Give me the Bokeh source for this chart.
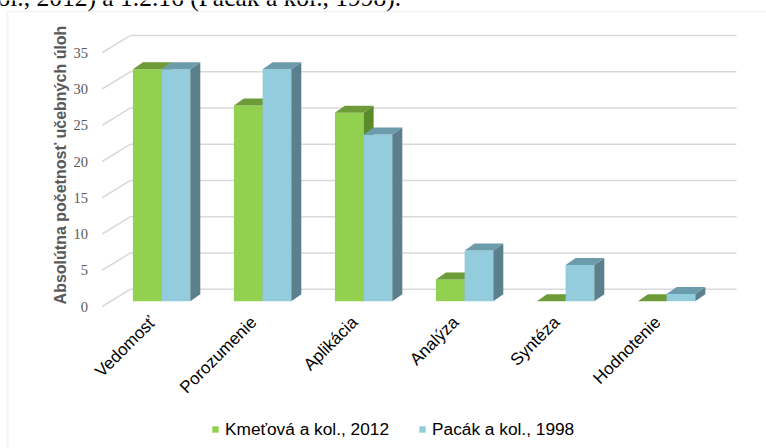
import math
from bokeh.plotting import figure
from bokeh.models import (Range1d, Legend, LegendItem, Label, BoxAnnotation)
from bokeh.core.properties import value
from bokeh.embed import file_html
from bokeh.resources import INLINE

# ---------------- data ----------------
categories = ["Vedomosť", "Porozumenie", "Aplikácia", "Analýza", "Syntéza", "Hodnotenie"]
kmetova = [32, 27, 26, 3, 0, 0]
pacak = [32, 32, 23, 7, 5, 1]
y_ticks = [0, 5, 10, 15, 20, 25, 30, 35]
y_tick_labels = ["0", "5", "10", "15", "20", "25", "30", "35"]
series_names = ["Kmeťová a kol., 2012", "Pacák a kol., 1998"]
y_title = "Absolútna početnosť učebných úloh"
caption_fragment = "ol., 2012) a 1.2.16 (Pacák a kol., 1998)."

# ---------------- geometry (pixels of the 766x448 canvas) ----------------
W, H = 766, 448
X0, SX = 101.7, 101.0                  # floor front-left px, px per category
Y0, SY = 306.0, 7.25                   # px of value 0 at floor front, px per unit


def dx(px):
    return (px - X0) / SX


def dy(py):
    return (Y0 - py) / SY


def off(dx_px, dy_px):
    return dx_px / SX, dy_px / SY


wall_dx, wall_dy = off(28.3, 17.3)     # floor front -> back wall
bar_dx, bar_dy = off(8.9, 5.3)         # floor front -> bar front plane
dep_dx, dep_dy = off(10.0, 7.0)        # bar depth
bar_w = 28.7 / SX
n = len(categories)

GRID = "#D9D9D9"
GREY_TXT = "#595959"
GREEN = ("#92D050", "#6C9B38", "#5B8A2B")   # front, top, side
BLUE = ("#93CDDD", "#6C9BAC", "#5B7F8C")

p = figure(width=W, height=H, x_range=Range1d(dx(0), dx(W)), y_range=Range1d(dy(H), dy(0)),
           output_backend="svg", toolbar_location=None, x_axis_type=None, y_axis_type=None,
           min_border=0)
p.outline_line_color = None
p.background_fill_color = "white"
p.border_fill_color = "white"

# outer chart border (left and top edges visible)
p.add_layout(BoxAnnotation(left=7, right=W + 50, top=H - 11, bottom=-50,
                           left_units="screen", right_units="screen",
                           top_units="screen", bottom_units="screen",
                           fill_alpha=0, line_color=GRID, line_width=2))

# ---------------- walls (grid) ----------------
k = len(y_ticks)
p.segment(x0=[wall_dx] * k, y0=[t + wall_dy for t in y_ticks],
          x1=[n + wall_dx] * k, y1=[t + wall_dy for t in y_ticks],
          line_color=GRID, line_width=1.5)
p.segment(x0=[0] * k, y0=y_ticks,
          x1=[wall_dx] * k, y1=[t + wall_dy for t in y_ticks],
          line_color=GRID, line_width=1.5)

# ---------------- value axis labels ----------------
p.text(x=[dx(87.5)] * k, y=y_ticks, text=y_tick_labels,
       text_font=value("Liberation Serif"), text_font_size="14.5px",
       text_color=GREY_TXT, text_align="right", text_baseline="middle")
p.add_layout(Label(x=60, y=H - 164.5, x_units="screen", y_units="screen",
                   text=y_title, angle=math.pi / 2, text_font="Liberation Sans",
                   text_font_style="bold", text_font_size="16px", text_color=GREY_TXT,
                   text_align="center", text_baseline="middle"))

# ---------------- category labels ----------------
p.text(x=[i + 0.5 for i in range(n)], y=[dy(319)] * n, text=categories,
       angle=math.pi / 4, text_font=value("Liberation Sans"), text_font_size="17px",
       text_color="#000000", text_align="right", text_baseline="middle")


# ---------------- 3D bars ----------------
def draw_bars(vals, shift, colors):
    L, R, B, T = [], [], [], []
    txs, tys, sxs, sys_ = [], [], [], []
    for i, v in enumerate(vals):
        l = i + 0.5 + bar_dx + shift
        r = l + bar_w
        b = bar_dy
        t = v + bar_dy
        L.append(l); R.append(r); B.append(b); T.append(t)
        txs.append([l, r, r + dep_dx, l + dep_dx])
        tys.append([t, t, t + dep_dy, t + dep_dy])
        sxs.append([r, r + dep_dx, r + dep_dx, r])
        sys_.append([b, b + dep_dy, t + dep_dy, t])
    front = p.quad(left=L, right=R, bottom=B, top=T, fill_color=colors[0], line_alpha=0)
    p.patches(xs=sxs, ys=sys_, fill_color=colors[2], line_alpha=0)
    p.patches(xs=txs, ys=tys, fill_color=colors[1], line_alpha=0)
    return front


g_front = draw_bars(kmetova, -bar_w, GREEN)
b_front = draw_bars(pacak, 0.0, BLUE)

# ---------------- legend ----------------
legend = Legend(items=[LegendItem(label=series_names[0], renderers=[g_front]),
                       LegendItem(label=series_names[1], renderers=[b_front])],
                location=(211.0, H - 439.5), orientation="horizontal",
                glyph_width=8, glyph_height=8, label_standoff=6, spacing=29,
                padding=0, margin=0, border_line_color=None, background_fill_alpha=0,
                label_text_font="Liberation Sans", label_text_font_size="17.3px",
                label_text_color="#000000", label_height=20)
p.add_layout(legend)

# cropped caption of the surrounding document
p.add_layout(Label(x=-3, y=H + 3, x_units="screen", y_units="screen",
                   text=caption_fragment, text_font="Liberation Serif",
                   text_font_size="25.5px", text_color="#000000",
                   text_align="left", text_baseline="alphabetic"))

open("out.html", "w").write(file_html(p, INLINE))
